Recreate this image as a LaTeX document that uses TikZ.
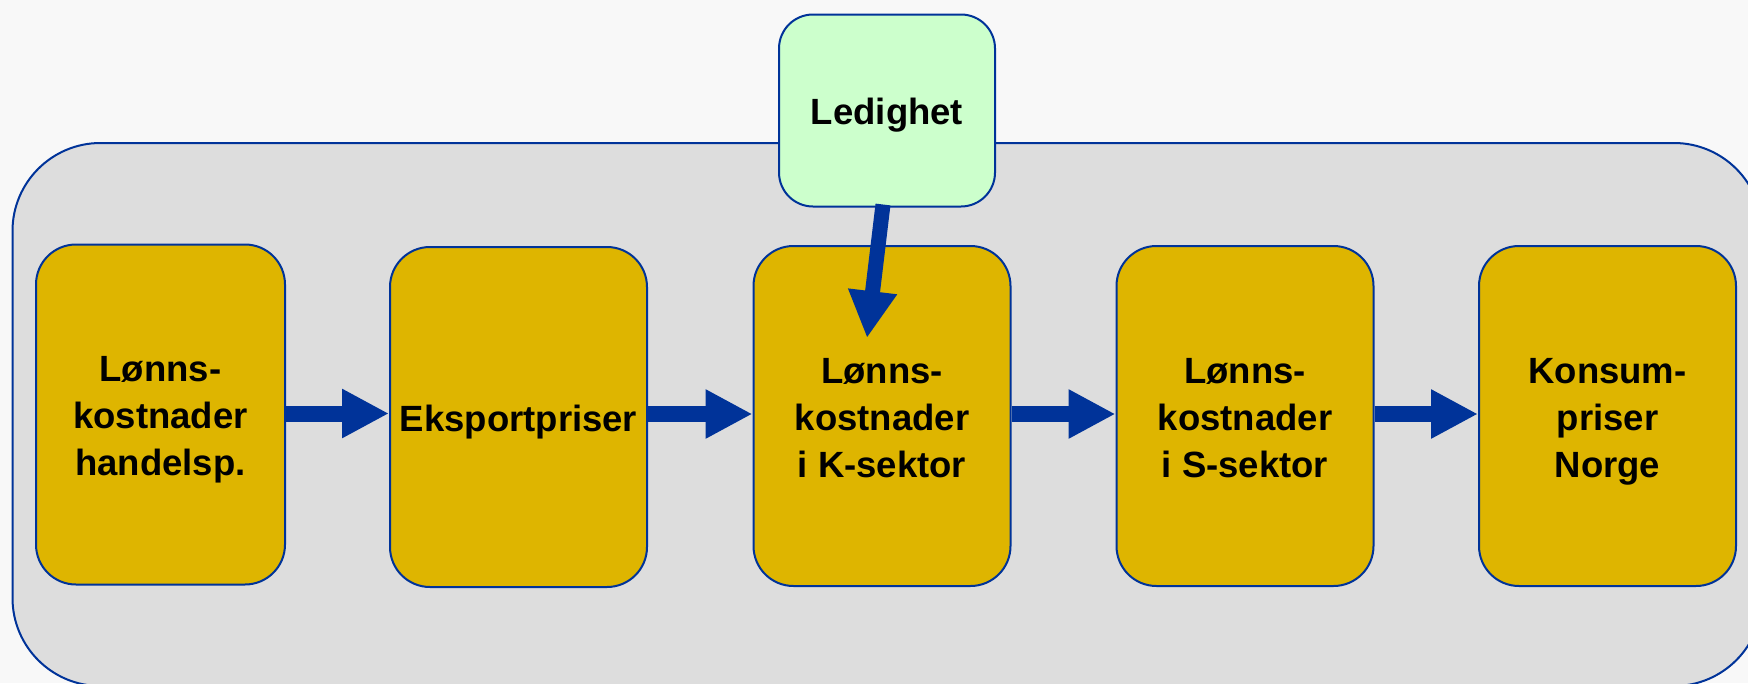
\documentclass[tikz,border=0pt]{standalone}
\usepackage{fontspec}
\setmainfont{Liberation Sans}
\usepackage{tikz}
\usetikzlibrary{arrows.meta}
\definecolor{frameblue}{HTML}{003399}
\definecolor{boxgold}{HTML}{DEB500}
\definecolor{boxgreen}{HTML}{CCFFCC}
\definecolor{panelgrey}{HTML}{DDDDDD}
\definecolor{pagegrey}{HTML}{F8F8F8}
\newcommand{\boxlines}[1]{\raisebox{-5pt}[\height][\depth]{\begin{tabular}{@{}c@{}}#1\end{tabular}}}

\begin{document}
\begin{tikzpicture}[x=1pt,y=-1pt,
  box/.style={draw=frameblue,line width=2pt,fill=boxgold,rounded corners=40pt,
    minimum width=257pt,minimum height=340pt,inner sep=0pt,
    font=\fontsize{36.5}{47}\selectfont\bfseries},
  flow/.style={draw=frameblue,line width=16pt,
    -{Triangle[length=47pt,width=46pt]}}]
\useasboundingbox (0,0) rectangle (1748,683);
\fill [pagegrey] (0,0) rectangle (1748,683);
\begin{scope}
\clip (0,0) rectangle (1748,683);
\draw [frameblue,line width=2pt,fill=panelgrey,rounded corners=88pt] (12.5,143) rectangle (1762,686);
\end{scope}
\node [box,minimum width=249pt] (handel) at (160.5,414.5) {\boxlines{Lønns-\\kostnader\\handelsp.}};
\node [box] (eksport) at (518.5,417) {\boxlines{Eksportpriser}};
\node [box] (ksektor) at (882,416) {\boxlines{Lønns-\\kostnader\\i K-sektor}};
\node [box] (ssektor) at (1245,416) {\boxlines{Lønns-\\kostnader\\i S-sektor}};
\node [box] (konsum) at (1607.5,416) {\boxlines{Konsum-\\priser\\Norge}};
\node [box,fill=boxgreen,rounded corners=34pt,minimum width=216pt,minimum height=192pt] (ledighet) at (887,110.5) {\boxlines{Ledighet}};
\coordinate (ledtip) at (867,338);
% arrows
\draw [flow] ([yshift=1pt]handel.east) -- ([yshift=1pt]handel.east -| eksport.west);
\draw [flow] ([yshift=3pt]eksport.east) -- ([yshift=3pt]eksport.east -| ksektor.west);
\draw [flow] ([yshift=2pt]ksektor.east) -- ([yshift=2pt]ksektor.east -| ssektor.west);
\draw [flow] ([yshift=2pt]ssektor.east) -- ([yshift=2pt]ssektor.east -| konsum.west);
\draw [flow,line width=15pt] ([xshift=-4pt,yshift=3pt]ledighet.south) -- (ledtip);
\end{tikzpicture}
\end{document}
